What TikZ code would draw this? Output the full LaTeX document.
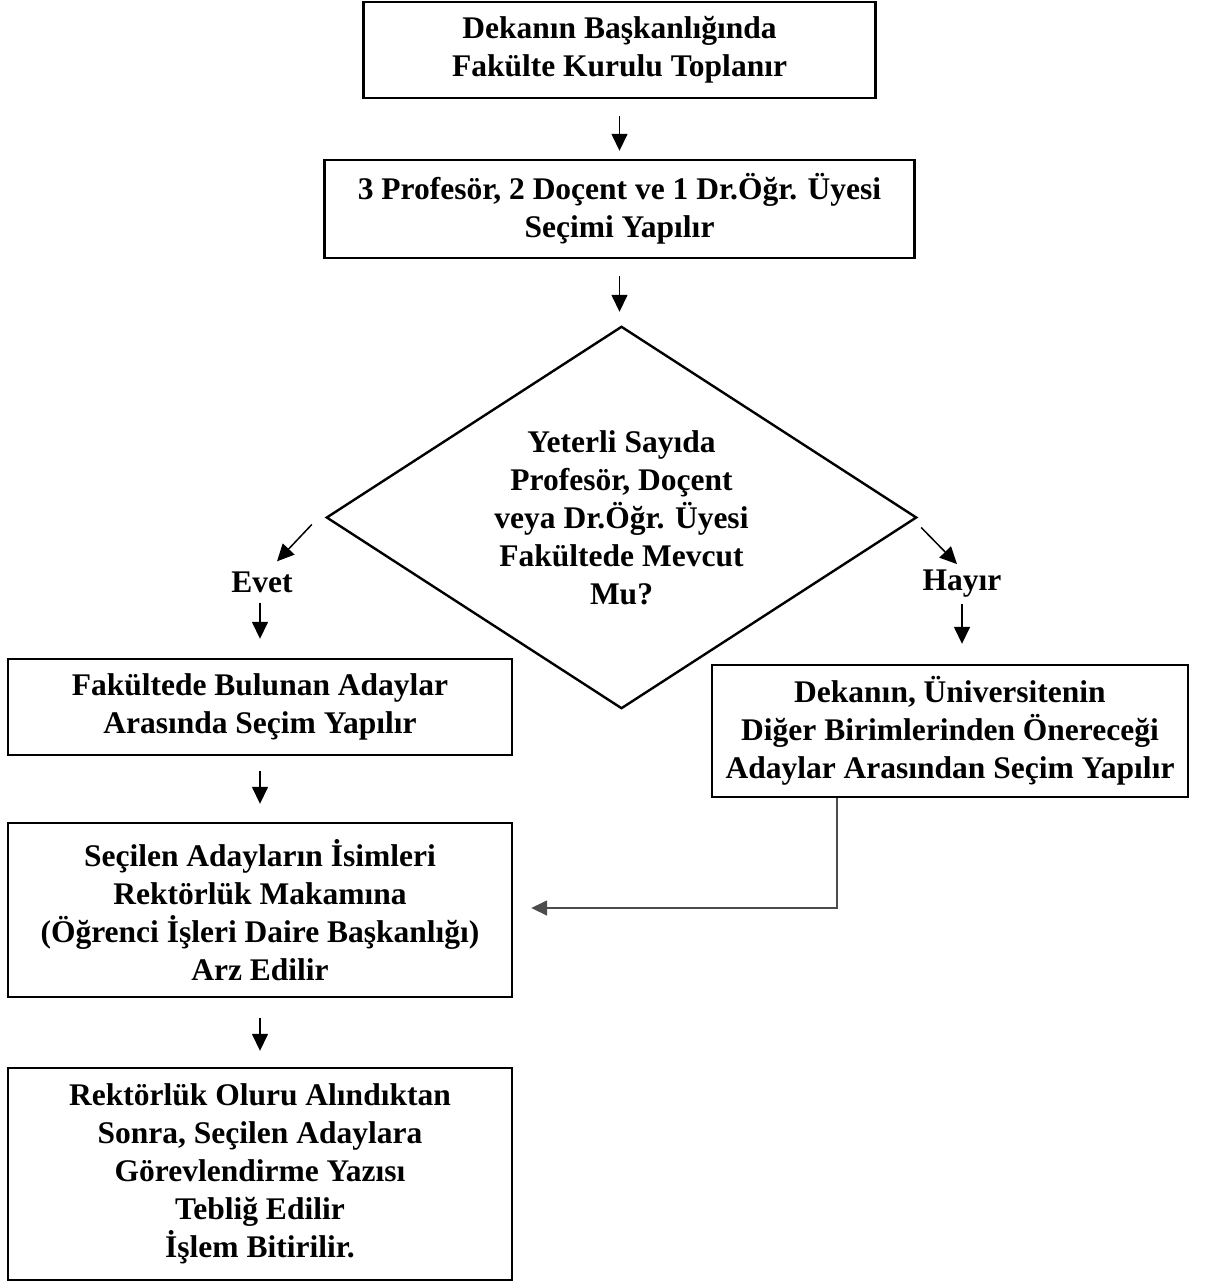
\documentclass[tikz,border=0pt]{standalone}
\usepackage{fontspec}
\setmainfont{Liberation Serif}
\usetikzlibrary{arrows.meta,calc}
\begin{document}
\begin{tikzpicture}[x=1pt,y=-1pt,
  every node/.style={font=\fontsize{31.5}{38}\selectfont\bfseries, align=center},
  stepbox/.style={draw, line width=2.4pt, rectangle, inner sep=0pt},
  decision/.style={rectangle, inner sep=0pt},
  plain/.style={inner sep=0pt},
  arr/.style={line width=1.5pt, -{Triangle[length=17pt,width=16pt]}},
  conn/.style={line width=1.6pt, black!70, -{Triangle[length=16pt,width=15pt]}}]
\useasboundingbox (0,0) rectangle (1221,1282);

% process steps
\node[stepbox, minimum width=512pt, minimum height=96pt] (b1) at (619.5,50)
  {Dekanın Başkanlığında\\Fakülte Kurulu Toplanır};
\node[stepbox, minimum width=590pt, minimum height=98pt] (b2) at (619.5,209)
  {3 Profesör, 2 Doçent ve 1 Dr.Öğr. Üyesi\\Seçimi Yapılır};

% decision: text block framed by a diamond through its anchors
\node[decision, minimum width=589pt, minimum height=381pt] (dia) at (621.5,517.5)
  {Yeterli Sayıda\\Profesör, Doçent\\veya Dr.Öğr. Üyesi\\Fakültede Mevcut\\Mu?};
\draw[line width=2.4pt, line join=miter]
  (dia.north) -- (dia.east) -- (dia.south) -- (dia.west) -- cycle;

\node[plain] (evet) at (262,582) {Evet};
\node[plain] (hayir) at (962,584) {Hayır};

\node[stepbox, minimum width=504pt, minimum height=96pt] (ba) at (260,707)
  {Fakültede Bulunan Adaylar\\Arasında Seçim Yapılır};
\node[stepbox, minimum width=476pt, minimum height=132pt] (rb) at (950,731)
  {Dekanın, Üniversitenin\\Diğer Birimlerinden Önereceği\\Adaylar Arasından Seçim Yapılır};
\node[stepbox, minimum width=504pt, minimum height=174pt] (bb) at (260,910)
  {Seçilen Adayların İsimleri\\Rektörlük Makamına\\(Öğrenci İşleri Daire Başkanlığı)\\Arz Edilir};
\node[stepbox, minimum width=504pt, minimum height=212pt] (bc) at (260,1174)
  {Rektörlük Oluru Alındıktan\\Sonra, Seçilen Adaylara\\Görevlendirme Yazısı\\Tebliğ Edilir\\İşlem Bitirilir.};

% connectors
\draw[arr, shorten <=17pt, shorten >=8pt] (b1) -- (b2);
\draw[arr, shorten <=17pt, shorten >=15pt] (b2.south) -- (b2.south |- dia.north);
\draw[arr] ($(dia.west)+(-15,7)$) -- ($(evet.north)+(15,-10)$);
\draw[arr] ($(dia.east)+(5,10)$) -- ($(hayir.north)+(-5,-6)$);
\draw[arr, shorten <=10pt, shorten >=19pt] (evet.south -| ba.north) -- (ba.north);
\draw[arr, shorten <=6pt, shorten >=20pt] (hayir.south) -- (hayir.south |- rb.north);
\draw[arr, shorten <=15pt, shorten >=18pt] (ba) -- (bb);
\draw[arr, shorten <=20pt, shorten >=16pt] (bb) -- (bc);
\draw[conn, shorten >=18pt] ([xshift=126pt]rb.south west) |- ($(bb.east)+(0,-2)$);
\end{tikzpicture}
\end{document}
